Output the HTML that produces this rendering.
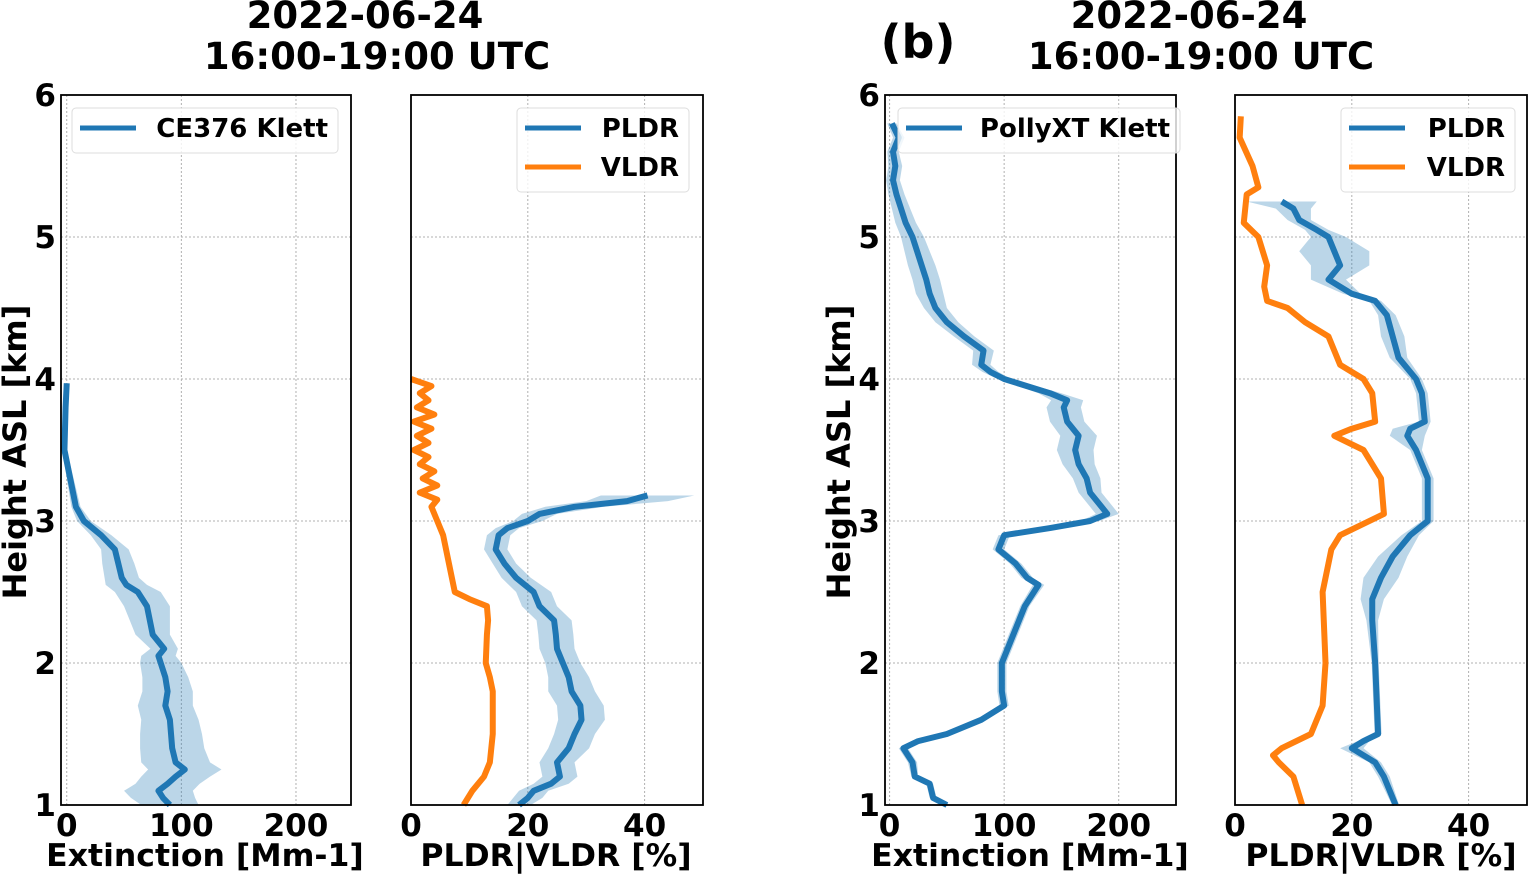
<!DOCTYPE html>
<html><head><meta charset="utf-8">
<style>
html,body{margin:0;padding:0;background:#fff;}
svg{display:block;font-family:"DejaVu Sans","Liberation Sans",sans-serif;font-weight:bold;}
</style></head>
<body>
<svg id="chart" width="1529" height="875" viewBox="0 0 1529 875" xmlns="http://www.w3.org/2000/svg">
<text x="377" y="28" font-size="37" text-anchor="middle" transform="translate(-12,0)">2022-06-24</text>
<text x="377" y="69" font-size="37" text-anchor="middle">16:00-19:00 UTC</text>
<text x="1189" y="28" font-size="37" text-anchor="middle">2022-06-24</text>
<text x="1201" y="69" font-size="37" text-anchor="middle">16:00-19:00 UTC</text>
<text x="918" y="58" font-size="46" text-anchor="middle">(b)</text>
<text transform="translate(26,452) rotate(-90)" font-size="32" text-anchor="middle">Height ASL [km]</text>
<text transform="translate(850,452) rotate(-90)" font-size="32" text-anchor="middle">Height ASL [km]</text>
</svg>
<script>
// ---- data (height km, value, uncertainty half-width) ----
const ceH   = [3.97,3.8,3.5,3.3,3.1,3.0,2.9,2.8,2.7,2.6,2.55,2.5,2.4,2.2,2.1,2.05,2.0,1.9,1.8,1.7,1.6,1.5,1.4,1.3,1.25,1.2,1.15,1.1,1.05,1.0];
const ceV   = [0,-1,-2,3,8,15,30,42,45,48,52,62,70,75,85,80,82,86,88,86,90,91,92,95,103,95,88,80,84,90];
const ceE   = [1,1,2,3,4,6,9,12,14,15,18,20,20,15,12,15,18,20,22,24,25,27,28,30,32,30,28,30,28,25];

const p1VH  = [4.0,3.95,3.9,3.85,3.8,3.75,3.7,3.65,3.6,3.55,3.5,3.45,3.4,3.35,3.3,3.25,3.2,3.15,3.1,3.0,2.9,2.8,2.7,2.6,2.5,2.45,2.4,2.3,2.2,2.0,1.9,1.8,1.6,1.5,1.3,1.2,1.1,1.0];
const p1VV  = [0,3.5,1.5,3,1,4,0.5,3.5,1,3,0.5,3,1.5,4,2,4.5,1.5,4.5,3.5,4.5,5.5,6,6.5,7,7.5,10,13,13.2,13,12.8,13.5,14,14,14,13.5,12.5,10.5,9];
const p1PH  = [3.18,3.14,3.1,3.05,3.0,2.95,2.9,2.8,2.7,2.6,2.5,2.4,2.3,2.2,2.1,2.0,1.9,1.8,1.7,1.6,1.5,1.4,1.3,1.2,1.15,1.1,1.05,1.0];
const p1PV  = [40.5,37,28,22,20,16.5,15,14.5,16,18,21,22,24.5,24.8,25,26,27,27.5,29,29.2,28,27,25,25.5,24,21,20,18.5];
const p1PE  = [8,7,5,3,2.5,2,2,2,2,2.5,3,3,3,3,3,3,3.5,4,4,4,3.5,3.5,3,3,3,2.5,2.5,2];

const pxH   = [5.8,5.7,5.6,5.5,5.4,5.3,5.2,5.1,5.0,4.9,4.8,4.7,4.6,4.5,4.4,4.3,4.2,4.1,4.05,4.0,3.9,3.85,3.8,3.7,3.6,3.5,3.4,3.3,3.2,3.1,3.05,3.0,2.95,2.9,2.8,2.7,2.6,2.55,2.4,2.2,2.0,1.8,1.7,1.6,1.5,1.45,1.4,1.3,1.2,1.15,1.05,1.0];
const pxV   = [2,8,3,5,3,6,10,14,20,24,28,32,35,40,50,65,82,80,88,100,140,155,152,155,165,162,165,172,175,185,190,175,140,100,95,110,120,130,118,108,98,98,100,80,50,25,12,20,22,35,38,50];
const pxE   = [4,5,5,6,6,7,8,9,10,11,12,12,12,10,10,9,9,8,7,6,10,14,15,15,16,16,14,12,10,10,10,8,6,5,5,5,5,5,4,4,4,4,4,4,4,4,4,4,3,3,3,3];

const p2VH  = [5.85,5.7,5.5,5.35,5.3,5.1,5.0,4.8,4.65,4.55,4.5,4.4,4.3,4.2,4.1,4.0,3.9,3.7,3.65,3.6,3.5,3.3,3.05,2.9,2.8,2.7,2.5,2.0,1.7,1.5,1.4,1.35,1.3,1.2,1.0];
const p2VV  = [1,0.8,3,4,2,1.5,4,5.5,5,5.5,9,12,16,17,18,22,23.5,24,20,17,22,25,25.5,18,16.5,16,15,15.5,15,13,8,6.5,7.5,10,11.5];
const p2PH  = [5.25,5.2,5.12,5.05,5.0,4.9,4.8,4.7,4.6,4.55,4.45,4.3,4.15,4.0,3.9,3.7,3.65,3.6,3.5,3.3,3.0,2.9,2.75,2.6,2.45,2.3,2.0,1.5,1.45,1.4,1.3,1.2,1.1,1.0];
const p2PV  = [8,10,11,14,16,17,18,16,20,24,26,27,28,31,32,32.5,30,29.5,31,33,33,30,27,25,23.5,23.5,24,24.5,22,20,24,25.5,26.5,27.5];
const p2PE  = [6,3,2,2,3,6,5,3,1.5,1,1.5,2,1.5,1,1,1,3,3,1,1,1,1.5,2.5,3,2,1,0.6,0.6,1,2,1,1,0.8,0.6];

const extTicks  = [0,100,200];
const dlrTicks  = [0,20,40];
const hTicks    = [1,2,3,4,5,6];

const svg = document.getElementById('chart');
const NS = 'http://www.w3.org/2000/svg';
function mk(tag, attrs, parent){
  const e = document.createElementNS(NS, tag);
  for (const k in attrs) e.setAttribute(k, attrs[k]);
  (parent||svg).appendChild(e);
  return e;
}
const Y0 = 805, Y1 = 95;
function yScale(h){ return Y0 - (h-1)*(Y0-Y1)/5; }

function panel(name, left, right, xmin, xmax, ticks, showY){
  const g = mk('g', {});
  
  
  const xs = v => left + (v-xmin)*(right-left)/(xmax-xmin);
  ticks.forEach(t => {
    const l = mk('line', {x1:xs(t), x2:xs(t), y1:Y1, y2:Y0, stroke:'#b0b0b0', 'stroke-width':1, 'stroke-dasharray':'2,2'}, g);
    
    
  });
  hTicks.forEach(h => {
    if (h===1||h===6) return;
    const l = mk('line', {x1:left, x2:right, y1:yScale(h), y2:yScale(h), stroke:'#b0b0b0', 'stroke-width':1, 'stroke-dasharray':'2,2'}, g);
    
    
  });
  ticks.forEach(t => {
    const tx = mk('text', {x:xs(t), y:836, 'font-size':31, 'text-anchor':'middle'}, g);
    tx.textContent = t;
    
    
  });
  if (showY){
    hTicks.forEach(h => {
      const tx = mk('text', {x:left-5, y:yScale(h)+11, 'font-size':31, 'text-anchor':'end'}, g);
      tx.textContent = h;
      
      
    });
  }
  return {g, xs};
}
function band(p, H, V, E, name){
  let d = '';
  H.forEach((h,i)=>{ d += (i?'L':'M') + p.xs(V[i]+E[i]) + ',' + yScale(h); });
  for (let i=H.length-1;i>=0;i--) d += 'L' + p.xs(V[i]-E[i]) + ',' + yScale(H[i]);
  const e = mk('path', {d:d+'Z', fill:'#1f77b4', 'fill-opacity':0.3, stroke:'none'}, p.g);
  
  
}
function line(p, H, V, color, name){
  const pts = H.map((h,i)=> p.xs(V[i]) + ',' + yScale(h)).join(' ');
  const e = mk('polyline', {points:pts, fill:'none', stroke:color, 'stroke-width':6, 'stroke-linejoin':'round'}, p.g);
  
  
}
function frame(p, left, right){
  const r = mk('rect', {x:left, y:Y1, width:right-left, height:Y0-Y1, fill:'none', stroke:'#000', 'stroke-width':1.8}, p.g);
  
  
}
function legend(p, x, w, entries){
  const lg = mk('g', {}, p.g);
  
  
  const bx = mk('rect', {x:x, y:108, width:w, height:entries.length*39+6, rx:4, fill:'#fff', 'fill-opacity':0.8, stroke:'#ddd', 'stroke-width':1}, lg);
  
  
  entries.forEach((en,i)=>{
    const yy = 128 + i*39;
    const l = mk('line', {x1:x+8, x2:x+64, y1:yy, y2:yy, stroke:en[1], 'stroke-width':5}, lg);
    
    
    const t = mk('text', {x:x+w-10, y:yy+9, 'font-size':26, 'text-anchor':'end'}, lg);
    t.textContent = en[0];
    
    
  });
}
function xlabel(x, txt){
  const t = mk('text', {x:x, y:866, 'font-size':31.5, 'text-anchor':'middle'});
  t.textContent = txt;
  
  
}
const BLUE='#1f77b4', ORANGE='#ff7f0e';

const a = panel('panel-ce376-extinction', 61, 351, -5, 248, extTicks, true);
band(a, ceH, ceV, ceE, 'ce376-extinction-uncertainty');
line(a, ceH, ceV, BLUE, 'ce376-extinction-line');
frame(a, 61, 351);
legend(a, 72, 266, [['CE376 Klett', BLUE]]);

const b = panel('panel-ce376-depol', 411, 703, 0, 50, dlrTicks, false);
band(b, p1PH, p1PV, p1PE, 'ce376-pldr-uncertainty');
line(b, p1VH, p1VV, ORANGE, 'ce376-vldr-line');
line(b, p1PH, p1PV, BLUE, 'ce376-pldr-line');
frame(b, 411, 703);
legend(b, 517, 172, [['PLDR', BLUE], ['VLDR', ORANGE]]);

const c = panel('panel-pollyxt-extinction', 885, 1176, -4, 250, extTicks, true);
band(c, pxH, pxV, pxE, 'pollyxt-extinction-uncertainty');
line(c, pxH, pxV, BLUE, 'pollyxt-extinction-line');
frame(c, 885, 1176);
legend(c, 898, 282, [['PollyXT Klett', BLUE]]);

const d = panel('panel-pollyxt-depol', 1235, 1527, 0, 50, dlrTicks, false);
band(d, p2PH, p2PV, p2PE, 'pollyxt-pldr-uncertainty');
line(d, p2VH, p2VV, ORANGE, 'pollyxt-vldr-line');
line(d, p2PH, p2PV, BLUE, 'pollyxt-pldr-line');
frame(d, 1235, 1527);
legend(d, 1341, 174, [['PLDR', BLUE], ['VLDR', ORANGE]]);

xlabel(205, 'Extinction [Mm-1]');
xlabel(556, 'PLDR|VLDR [%]');
xlabel(1030, 'Extinction [Mm-1]');
xlabel(1381, 'PLDR|VLDR [%]');
</script>
</body></html>
